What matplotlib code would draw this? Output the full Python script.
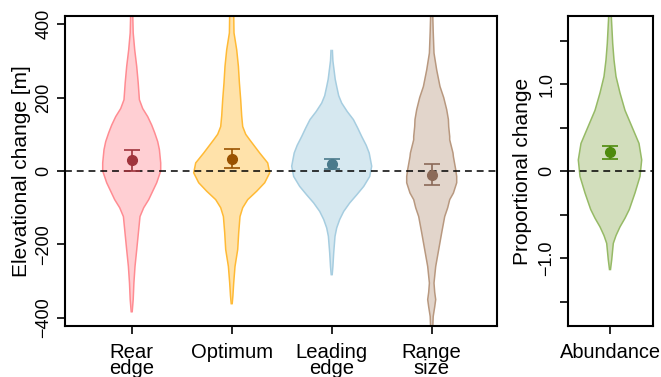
import matplotlib
matplotlib.use("Agg")
import matplotlib.pyplot as plt
import numpy as np

plt.rcParams['font.family'] = ['Liberation Sans', 'DejaVu Sans']

# ---- data ----
categories = ["Rear\nedge", "Optimum", "Leading\nedge", "Range\nsize"]
means = [29, 33.5, 20, -11]
err_low = [1, 7, 5, -39]
err_high = [58, 61, 34, 19]

# violin profiles: y values and half-widths (x units)
rear_y  = [430, 376, 330, 285, 240, 194, 170, 148, 125, 104, 80, 58, 22, 0, -32, -55, -78, -100, -124, -168, -215, -260, -305, -350, -383]
rear_w  = [0.01, 0.015, 0.03, 0.05, 0.065, 0.077, 0.11, 0.16, 0.20, 0.23, 0.26, 0.277, 0.29, 0.29, 0.25, 0.21, 0.17, 0.12, 0.083, 0.067, 0.05, 0.033, 0.022, 0.015, 0.005]
opt_y   = [430, 376, 330, 285, 240, 194, 150, 121, 100, 85, 67, 49, 22, -5, -32, -55, -78, -100, -124, -168, -214, -260, -305, -340, -361]
opt_w   = [0.02, 0.023, 0.05, 0.067, 0.077, 0.09, 0.10, 0.11, 0.14, 0.18, 0.23, 0.28, 0.36, 0.38, 0.33, 0.25, 0.16, 0.11, 0.083, 0.07, 0.06, 0.033, 0.02, 0.012, 0.005]
lead_y  = [328, 300, 276, 250, 230, 205, 185, 162, 140, 117, 94, 70, 49, 13, -15, -42, -65, -87, -110, -132, -155, -178, -223, -260, -282]
lead_w  = [0.007, 0.012, 0.023, 0.035, 0.05, 0.07, 0.10, 0.155, 0.217, 0.26, 0.30, 0.345, 0.375, 0.40, 0.38, 0.32, 0.25, 0.18, 0.12, 0.08, 0.05, 0.033, 0.02, 0.012, 0.005]
rng_y   = [430, 380, 321, 275, 230, 200, 167, 140, 121, 94, 85, 49, 39, 4, -15, -32, -60, -78, -100, -124, -168, -214, -260, -305, -330, -350, -370, -396, -430]
rng_w   = [0.01, 0.015, 0.023, 0.05, 0.083, 0.12, 0.15, 0.167, 0.17, 0.18, 0.18, 0.213, 0.217, 0.24, 0.25, 0.25, 0.217, 0.18, 0.16, 0.13, 0.10, 0.07, 0.04, 0.023, 0.03, 0.04, 0.03, 0.015, 0.01]
violin_y = [rear_y, opt_y, lead_y, rng_y]
violin_w = [rear_w, opt_w, lead_w, rng_w]

abund_label = "Abundance"
abund_mean = 0.22
abund_low = 0.145
abund_high = 0.29
abund_y = [1.85, 1.47, 1.28, 1.09, 0.90, 0.70, 0.51, 0.32, 0.13, -0.06, -0.25, -0.44, -0.54, -0.64, -0.74, -0.83, -1.02, -1.13]
abund_w = [0.01, 0.027, 0.04, 0.06, 0.10, 0.15, 0.22, 0.29, 0.317, 0.30, 0.25, 0.193, 0.15, 0.10, 0.06, 0.033, 0.017, 0.005]

fills = ["#FFCFD3", "#FFE2AA", "#D6E8F0", "#E2D5CB"]
edges = ["#FF8C92", "#FFBA35", "#A6CDE0", "#B8987F"]
pts   = ["#A0343C", "#9A5200", "#4A7A8C", "#8B6A58"]
ab_fill, ab_edge, ab_pt = "#D2DEBC", "#96BA66", "#4D8A0C"

W, H = 661, 377
fig = plt.figure(figsize=(W/100, H/100), dpi=100)
ax1 = fig.add_axes([65/W, 1-326/H, (497-65)/W, 310/H])
ax2 = fig.add_axes([567.7/W, 1-326/H, 85/W, 310/H])

def draw_violin(ax, x, ys, ws, fc, ec):
    ys = np.asarray(ys, float); ws = np.asarray(ws, float)
    ax.fill_betweenx(ys, x - ws, x + ws, facecolor=fc, edgecolor='none', zorder=1)
    ax.plot(x - ws, ys, color=ec, lw=1.1, zorder=2)
    ax.plot(x + ws, ys, color=ec, lw=1.1, zorder=2)

xs = np.arange(1, len(categories) + 1)
for i, x in enumerate(xs):
    draw_violin(ax1, x, violin_y[i], violin_w[i], fills[i], edges[i])
ax1.axhline(0, color='black', lw=1.1, ls=(0, (4.5, 3.2)), zorder=3)
for i, x in enumerate(xs):
    ax1.errorbar([x], [means[i]], yerr=[[means[i]-err_low[i]], [err_high[i]-means[i]]],
                 fmt='o', color=pts[i], ms=7, capsize=5.5, elinewidth=1.2, capthick=1.2, zorder=4)

ax1.set_xlim(0.333, 4.653)
ax1.set_ylim(-422, 422)
ax1.set_xticks(xs)
ax1.set_xticklabels(categories, fontsize=14.6, linespacing=0.85)
ax1.set_yticks([-400, -200, 0, 200, 400])
ax1.set_yticklabels(["\u2212400", "\u2212200", "0", "200", "400"], fontsize=13, rotation=90, va='center')
ax1.set_ylabel("Elevational change [m]", fontsize=15)
ax1.yaxis.set_label_coords(-0.078, 0.5)

draw_violin(ax2, 1, abund_y, abund_w, ab_fill, ab_edge)
ax2.axhline(0, color='black', lw=1.1, ls=(0, (4.5, 3.2)), zorder=3)
ax2.errorbar([1], [abund_mean], yerr=[[abund_mean-abund_low], [abund_high-abund_mean]],
             fmt='o', color=ab_pt, ms=7, capsize=5.5, elinewidth=1.2, capthick=1.2, zorder=4)
ax2.set_xlim(0.577, 1.427)
ax2.set_ylim(-1.78, 1.785)
ax2.set_xticks([1])
ax2.set_xticklabels([abund_label], fontsize=14.4)
ax2.set_yticks([-1.5, -1.0, -0.5, 0, 0.5, 1.0, 1.5])
ax2.set_yticklabels(["", "\u22121.0", "", "0", "", "1.0", ""], fontsize=13, rotation=90, va='center')
ax2.set_ylabel("Proportional change", fontsize=15)
ax2.yaxis.set_label_coords(-0.42, 0.5)

for ax in (ax1, ax2):
    for s in ax.spines.values():
        s.set_linewidth(1.5)
    ax.tick_params(axis='both', length=6, width=1.2, direction='out')
    ax.tick_params(axis='x', pad=6)
    ax.tick_params(axis='y', pad=3)

fig.savefig("out.png", dpi=100)
